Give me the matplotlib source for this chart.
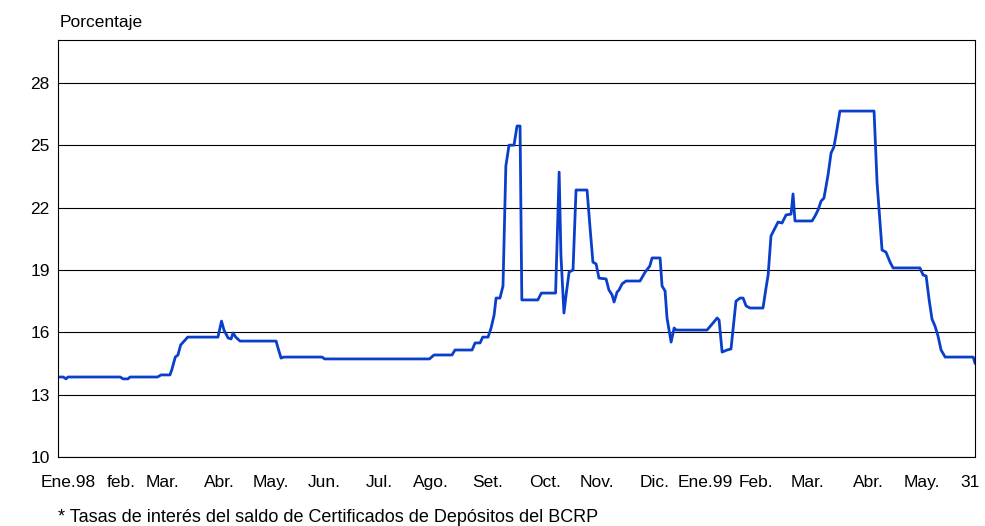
import matplotlib
matplotlib.use("Agg")
import matplotlib.pyplot as plt

plt.rcParams['font.family'] = ['Liberation Sans', 'DejaVu Sans']

# (day index from 1 Jan 1998, rate in percent)
points = [(0, 13.85), (3, 13.85), (4.5, 13.76), (5.6, 13.85), (35, 13.85), (36.6, 13.76),
          (39.4, 13.76), (40.5, 13.85), (56, 13.85), (58, 13.95), (63, 13.95), (64, 14.19),
          (66, 14.81), (67.5, 14.91), (69, 15.39), (73, 15.77), (90, 15.77), (92, 16.54),
          (93.4, 16.11), (95.7, 15.73), (97.4, 15.68), (98.5, 15.97), (100, 15.77), (102.4, 15.58),
          (122.7, 15.58), (123.8, 15.25), (125.5, 14.76), (127, 14.81), (148.6, 14.81),
          (150, 14.72), (209, 14.72), (211.6, 14.91), (221.7, 14.91), (223.4, 15.15), (233, 15.15),
          (234.7, 15.49), (237.5, 15.49), (239, 15.77), (242, 15.77), (243.7, 16.21),
          (245.4, 16.83), (246.5, 17.65), (248.7, 17.65), (250.4, 18.23), (252, 24.0),
          (253.8, 25.01), (256.6, 25.01), (258.3, 25.93), (260, 25.93), (261, 17.56), (270, 17.56),
          (272, 17.89), (280, 17.89), (282, 23.71), (283, 19.72), (284.7, 16.93), (285.9, 17.8),
          (287.6, 18.9), (289.8, 19.0), (291.5, 22.85), (297.7, 22.85), (299.4, 21.02),
          (301, 19.38), (302.8, 19.29), (304.4, 18.61), (308.4, 18.57), (310, 18.04),
          (311.8, 17.8), (312.9, 17.46), (314.6, 17.94), (315.7, 18.04), (317.4, 18.33),
          (319.6, 18.47), (327.5, 18.47), (330.4, 18.9), (333, 19.19), (334.3, 19.58),
          (338.8, 19.58), (339.9, 18.23), (341.6, 17.99), (342.7, 16.69), (345, 15.53),
          (346.7, 16.21), (347.8, 16.11), (365.2, 16.11), (368.6, 16.45), (370.9, 16.69),
          (372, 16.59), (373.7, 15.05), (376.5, 15.15), (378.7, 15.2), (380.4, 16.59),
          (381.5, 17.5), (383.8, 17.65), (385.5, 17.65), (387.2, 17.27), (389.4, 17.17),
          (396.7, 17.17), (398.4, 18.13), (399.6, 18.76), (401.2, 20.64), (403.5, 21.02),
          (405.2, 21.31), (407.4, 21.26), (409.7, 21.65), (412.5, 21.69), (413.6, 22.66),
          (414.7, 21.36), (424.3, 21.36), (426, 21.6), (427.7, 21.89), (429.4, 22.32),
          (431, 22.46), (433.3, 23.57), (435, 24.63), (436.6, 24.92), (437.8, 25.5),
          (440, 26.65), (459.2, 26.65), (460.9, 23.19), (462.6, 21.26), (463.7, 19.96),
          (465.9, 19.86), (468.2, 19.38), (469.9, 19.1), (485, 19.1), (486.8, 18.76),
          (488.5, 18.71), (490.2, 17.56), (491.8, 16.64), (493.5, 16.3), (495.2, 15.82),
          (496.9, 15.15), (499.2, 14.81), (515, 14.81), (516, 14.52)]
days = [p[0] for p in points]
rates = [p[1] for p in points]

tick_pos = [5.5, 35.5, 59, 91, 120, 150, 181, 210, 242, 274, 303, 336, 364, 393, 422, 456, 486, 513]
tick_lab = ['Ene.98', 'feb.', 'Mar.', 'Abr.', 'May.', 'Jun.', 'Jul.', 'Ago.', 'Set.', 'Oct.',
            'Nov.', 'Dic.', 'Ene.99', 'Feb.', 'Mar.', 'Abr.', 'May.', '31']

fig = plt.figure(figsize=(9.85, 5.26), dpi=100)
ax = fig.add_axes([58/985, 1-457/526, 917/985, 417/526])
ax.plot(days, rates, color='#0a3fcc', lw=2)
ax.set_xlim(0, 516)
ax.set_ylim(10, 30.07)
ax.set_yticks([10, 13, 16, 19, 22, 25, 28])
ax.yaxis.grid(True, color='black', lw=0.8)
ax.set_xticks(tick_pos)
ax.set_xticklabels(tick_lab)
ax.tick_params(length=0, labelsize=12.5)
ax.tick_params(axis='x', pad=13)
ax.tick_params(axis='y', pad=6)
for s in ax.spines.values():
    s.set_linewidth(0.8)
fig.text(60/985, 1-22/526, 'Porcentaje', fontsize=12.5, va='center')
fig.text(58/985, 1-517/526, '* Tasas de interés del saldo de Certificados de Depósitos del BCRP',
         fontsize=13, va='center')
fig.savefig('out.png')
